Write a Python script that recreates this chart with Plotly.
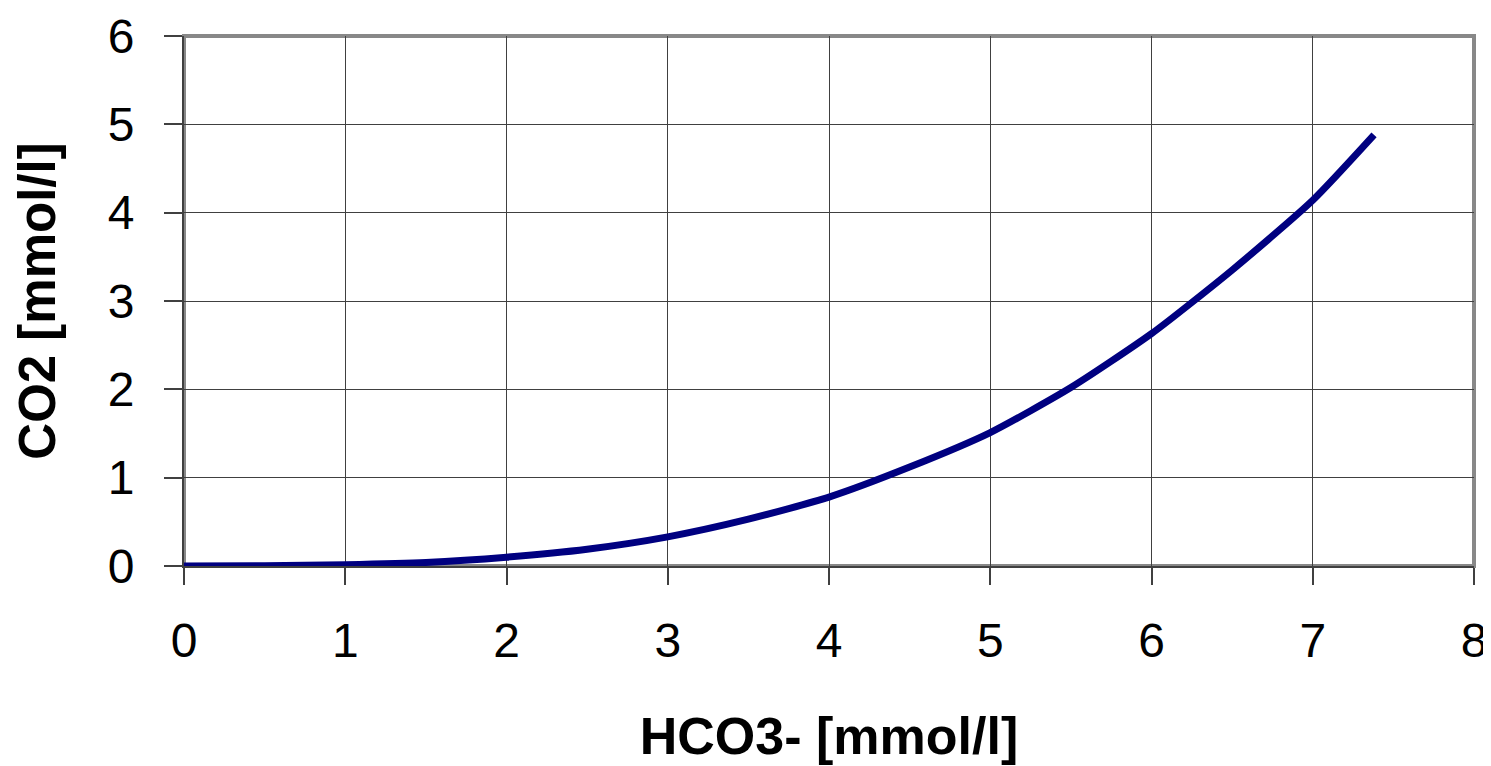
import plotly.graph_objects as go

hco3 = [0, 0.5, 1.0, 1.5, 2.0, 2.5, 3.0, 3.5, 4.0, 4.5, 5.0, 5.5, 6.0, 6.5, 7.0, 7.38]
co2 = [0, 0.003, 0.015, 0.04, 0.10, 0.19, 0.33, 0.53, 0.78, 1.12, 1.51, 2.02, 2.63, 3.35, 4.14, 4.88]

x_ticks = [0, 1, 2, 3, 4, 5, 6, 7, 8]
y_ticks = [0, 1, 2, 3, 4, 5, 6]

fig = go.Figure()
fig.add_trace(go.Scatter(x=hco3, y=co2, mode="lines",
                         line=dict(color="#000080", width=7, shape="spline", smoothing=0.6),
                         showlegend=False, hoverinfo="skip"))

font = "Liberation Sans, Arial, sans-serif"
fig.update_layout(
    width=1483, height=758,
    margin=dict(l=176, r=17, t=28, b=200),
    paper_bgcolor="white", plot_bgcolor="white",
    font=dict(family=font, color="black"),
    xaxis=dict(range=[0, 8], tickvals=x_ticks, ticks="outside", ticklen=17, tickcolor="#404040",
               tickwidth=2, showgrid=True, gridcolor="#404040", gridwidth=1,
               showline=True, linecolor="#404040", linewidth=2, zeroline=False,
               tickfont=dict(size=48, family=font), ticklabelstandoff=14, automargin=False,
               title=dict(text="<b>HCO3- [mmol/l]</b>", font=dict(size=52, family=font), standoff=52)),
    yaxis=dict(range=[0, 6], tickvals=y_ticks, ticks="outside", ticklen=18, tickcolor="#404040",
               tickwidth=2, showgrid=True, gridcolor="#404040", gridwidth=1,
               showline=True, linecolor="#404040", linewidth=2, zeroline=False,
               tickfont=dict(size=48, family=font), ticklabelstandoff=20, automargin=False,
               title=dict(text="<b>CO2 [mmol/l]</b>", font=dict(size=51, family=font), standoff=36)),
    shapes=[dict(type="rect", xref="paper", yref="paper", x0=0, y0=0, x1=1, y1=1,
                 line=dict(color="#888888", width=4), layer="below")],
)

fig.write_html("out.html")
